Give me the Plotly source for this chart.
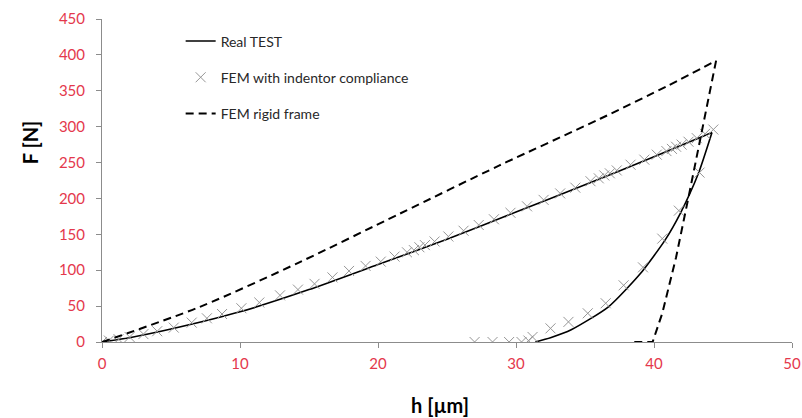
import plotly.graph_objects as go

# Real TEST: loading branch and unloading branch
real_load_h = [0, 2, 5, 10, 15, 20, 25, 30, 35, 40, 44.2]
real_load_F = [0, 6, 18, 42, 73, 108, 143, 181, 219, 258, 292]
real_unload_h = [44.2, 43.2, 41.9, 40.8, 39.0, 36.7, 34.0, 32.5, 31.4]
real_unload_F = [292, 234, 179, 142, 95, 49, 17, 6, 0]

# FEM with indentor compliance
fem_h = [0.0, 0.5, 1.2, 2.0, 3.0, 4.0, 5.2, 6.5, 7.6, 8.7, 10.1, 11.4, 12.9, 14.2,
         15.4, 16.7, 17.9, 19.1, 20.2, 21.2, 22.1, 22.6, 23.0, 23.4, 24.1, 25.1,
         26.2, 27.3, 28.4, 29.6, 30.8, 32.0, 33.2, 34.3, 35.4, 36.0, 36.4, 36.8,
         37.3, 38.3, 39.3, 40.2, 40.9, 41.3, 41.6, 42.0, 42.5, 43.1, 43.7, 44.3,
         43.3, 41.8, 40.6, 39.2, 37.8, 36.5, 35.2, 33.8, 32.5, 31.2, 30.9, 30.4,
         29.5, 28.3, 27.0]
fem_F = [0, 2, 4, 7, 11, 15, 20, 27, 33, 39, 47, 55, 65, 73,
         81, 90, 99, 106, 112, 119, 125, 128, 132, 135, 140, 147,
         155, 163, 171, 180, 189, 198, 207, 215, 224, 228, 232, 235,
         239, 247, 254, 261, 266, 269, 272, 275, 279, 284, 290, 296,
         236, 183, 144, 104, 79, 54, 40, 28, 19, 7, 2, 0,
         0, 0, 0]

# FEM rigid frame: loading and unloading
rigid_load_h = [0, 7.1, 14.3, 21.6, 28.8, 36.1, 41.0, 44.5]
rigid_load_F = [0, 49, 111, 179, 246, 311, 357, 392]
rigid_unload_h = [44.5, 43.5, 42.6, 41.6, 40.6, 39.9, 38.3]
rigid_unload_F = [392, 294, 211, 118, 40, 0, 0]

x_ticks = [0, 10, 20, 30, 40, 50]
y_ticks = [0, 50, 100, 150, 200, 250, 300, 350, 400, 450]
x_title = "h [µm]"
y_title = "F [N]"

FONT = "Lato"
RED = "rgb(228,56,76)"
GRAY = "rgb(150,150,150)"

fig = go.Figure()
solid = dict(color="black", width=1.6, shape="spline", smoothing=0.6)
dashed = dict(color="black", width=2, dash="8px,5px")
fig.add_trace(go.Scatter(x=real_load_h, y=real_load_F, mode="lines", name="Real TEST",
                         line=solid, legendgroup="a"))
fig.add_trace(go.Scatter(x=real_unload_h, y=real_unload_F, mode="lines", name="Real TEST",
                         line=solid, legendgroup="a", showlegend=False))
fig.add_trace(go.Scatter(x=fem_h, y=fem_F, mode="markers",
                         name="FEM with indentor compliance",
                         marker=dict(symbol="x-thin-open", size=10, color=GRAY,
                                     line=dict(width=1, color=GRAY)),
                         legendgroup="b"))
fig.add_trace(go.Scatter(x=rigid_load_h, y=rigid_load_F, mode="lines", name="FEM rigid frame",
                         line=dict(**dashed, shape="spline", smoothing=0.8), legendgroup="c"))
fig.add_trace(go.Scatter(x=rigid_unload_h, y=rigid_unload_F, mode="lines", name="FEM rigid frame",
                         line=dashed, legendgroup="c", showlegend=False))

axis_common = dict(showgrid=False, zeroline=False, showline=True,
                   linecolor="rgb(140,140,140)", linewidth=1,
                   ticks="outside", ticklen=5, tickcolor="rgb(140,140,140)",
                   tickfont=dict(family=FONT, size=15, color=RED),
                   automargin=False, ticklabeloverflow="allow")

fig.update_layout(
    width=802, height=418,
    margin=dict(l=102, r=10, t=19, b=76),
    paper_bgcolor="white", plot_bgcolor="white",
    font=dict(family=FONT, size=14, color="rgb(40,40,40)"),
    xaxis=dict(range=[0, 50], tickvals=x_ticks, ticklabelstandoff=3, **axis_common),
    yaxis=dict(range=[0, 450], tickvals=y_ticks, ticklabelstandoff=8, **axis_common),
    legend=dict(x=0.114, y=0.98, xanchor="left", yanchor="top",
                bgcolor="rgba(0,0,0,0)", tracegroupgap=15,
                font=dict(family=FONT, size=14, color="rgb(40,40,40)")),
    showlegend=True,
    annotations=[
        dict(text=f"<b>{x_title}</b>", xref="paper", yref="paper", x=0.49, y=-0.195,
             xanchor="center", yanchor="middle", showarrow=False,
             font=dict(family=FONT, size=20, color="black")),
        dict(text=f"<b>{y_title}</b>", xref="paper", yref="paper", x=-0.104, y=0.619,
             xanchor="center", yanchor="middle", showarrow=False, textangle=-90,
             font=dict(family=FONT, size=20, color="black")),
    ],
)

fig.write_html("out.html")
